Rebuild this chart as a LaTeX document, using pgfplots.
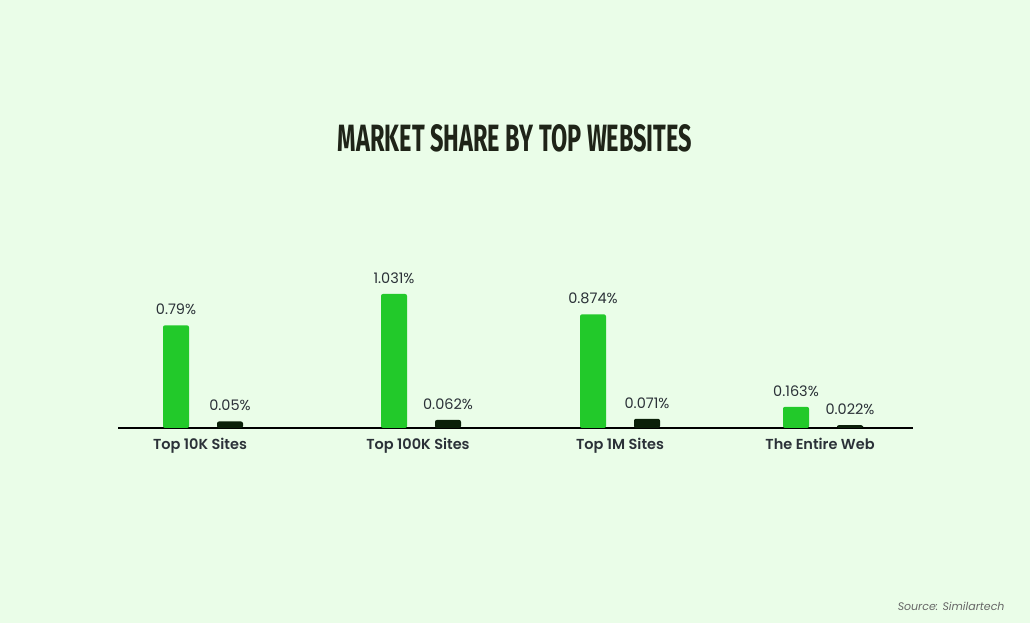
\documentclass[border=0pt]{standalone}
\usepackage{pgfplots}
\pgfplotsset{compat=1.18}
\usepackage{fontspec}
\setmainfont{Poppins}
\newfontfamily\medfont{Poppins SemiBold}
\newfontfamily\titlefont{Fira Sans}
\definecolor{bg}{HTML}{EAFDE8}
\definecolor{barg}{HTML}{22C92A}
\definecolor{bard}{HTML}{0B2009}
\definecolor{txt}{HTML}{2B3138}
\definecolor{ttl}{HTML}{1F2418}
\begin{document}
\begin{tikzpicture}
\fill[bg] (0,0) rectangle (1030pt,623pt);
\node[text=ttl] at (515pt,484.5pt) {\resizebox{354pt}{27pt}{\titlefont\bfseries MARKET SHARE BY TOP WEBSITES}};
\node[anchor=base east, text=black!60, font=\fontsize{11}{13}\selectfont\itshape] at (1008pt,12pt) {Source: Similartech};
\begin{axis}[
  at={(118pt,195pt)}, anchor=south west,
  scale only axis, width=795pt, height=143pt,
  xmin=118, xmax=913, ymin=0, ymax=1.1,
  clip=false,
  axis x line*=bottom, axis y line=none,
  axis line style={black, line width=1.2pt, -},
  xtick={200,418,620,820},
  xticklabels={Top 10K Sites, Top 100K Sites, Top 1M Sites, The Entire Web},
  major tick length=0pt,
  xticklabel style={font=\medfont\fontsize{14.5}{17}\selectfont, text=txt, yshift=-7pt},
  ybar, bar width=26pt, bar shift=0pt,
  point meta=explicit symbolic,
  nodes near coords={\pgfplotspointmeta\%},
  every node near coord/.append style={font=\fontsize{14.5}{17}\selectfont, text=txt, yshift=7pt},
]
\addplot[fill=barg, draw=none, rounded corners=2pt] coordinates {
  (176,0.79) [0.79]
  (394,1.031) [1.031]
  (593,0.874) [0.874]
  (796,0.163) [0.163]
};
\addplot[fill=bard, draw=none, rounded corners=2pt] coordinates {
  (230,0.05) [0.05]
  (448,0.062) [0.062]
  (647,0.071) [0.071]
  (850,0.022) [0.022]
};
\end{axis}
\end{tikzpicture}
\end{document}
